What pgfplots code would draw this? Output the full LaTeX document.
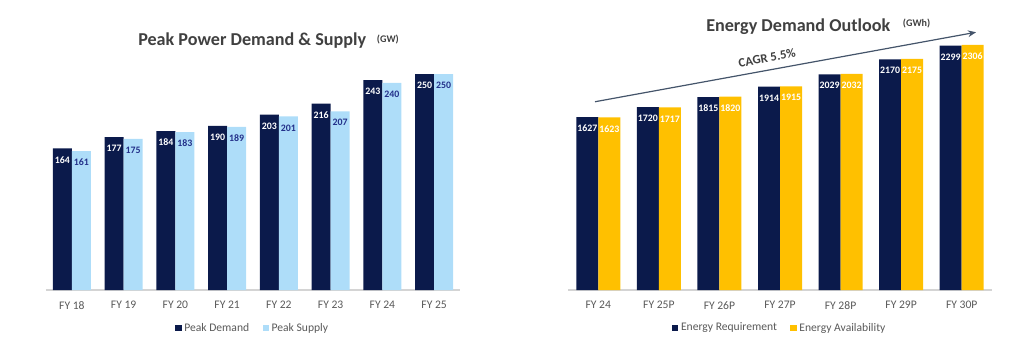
\documentclass[border=0pt]{standalone}
\usepackage{fontspec}
\setmainfont{Carlito}
\usepackage{pgfplots}
\usepackage{pgfplotstable}
\pgfplotsset{compat=1.18}
\usetikzlibrary{arrows.meta}

\definecolor{navy}{HTML}{0B1A4B}
\definecolor{skyblue}{HTML}{AEDDF9}
\definecolor{gold}{HTML}{FFC000}
\definecolor{labelblue}{HTML}{23308A}
\definecolor{titlegrey}{HTML}{404040}
\definecolor{tickgrey}{HTML}{595959}
\definecolor{arrowslate}{HTML}{44546A}

% Peak power demand and supply (GW)
\pgfplotstableread{
x demand supply
0 164 161
1 177 175
2 184 183
3 190 189
4 203 201
5 216 207
6 243 240
7 250 250
}\peaktable

% Energy requirement and availability (GWh)
\pgfplotstableread{
x requirement availability
0 1627 1623
1 1720 1717
2 1815 1820
3 1914 1915
4 2029 2032
5 2170 2175
6 2299 2306
}\energytable

\pgfplotsset{
  barchart/.style={
    ybar=0pt, scale only axis, enlargelimits=false, ymin=0,
    axis x line*=bottom, axis y line=none,
    x axis line style={draw=black!17, line width=1pt, -},
    major tick length=0pt,
    xticklabel style={font=\fontsize{8.7}{10}\selectfont, text=tickgrey, yshift=-5pt},
    nodes near coords, point meta=y,
    /pgf/number format/1000 sep={},
    /pgf/number format/assume math mode=true,
    every node near coord/.append style={font=\fontsize{7.4}{8}\selectfont\bfseries,
      anchor=center, inner sep=0pt, yshift=-8.5pt},
    legend style={at={(0.5,0)}, anchor=center, yshift=-28.5pt, draw=none, fill=none,
      font=\fontsize{8.7}{10}\selectfont, text=tickgrey,
      /tikz/every even column/.append style={column sep=8pt}},
    legend columns=2,
    legend image code/.code={\fill[##1, draw=none] (0pt,-2.3pt) rectangle (4.8pt,2.5pt);},
  }
}

\begin{document}
\begin{tikzpicture}
\useasboundingbox (0,0) rectangle (768pt,258pt);

\begin{axis}[barchart, at={(34.5pt,40.5pt)}, anchor=south west,
  width=310.5pt, height=181.3pt, xmin=-0.5, xmax=7.5, ymax=280,
  bar width=14.25pt, xtick={0,...,7},
  xticklabels={FY 18,FY 19,FY 20,FY 21,FY 22,FY 23,FY 24,FY 25}]
  \addplot[fill=navy, draw=none, every node near coord/.append style={text=white}]
    table[x=x, y=demand] {\peaktable};
  \addplot[fill=skyblue, draw=none, every node near coord/.append style={text=labelblue}]
    table[x=x, y=supply] {\peaktable};
  \legend{Peak Demand, Peak Supply}
\end{axis}

\begin{axis}[barchart, at={(426pt,40.5pt)}, anchor=south west,
  width=318pt, height=207.3pt, xmin=-0.5, xmax=6.5, ymax=2600,
  bar width=16.5pt, xtick={0,...,6},
  xticklabels={FY 24,FY 25P,FY 26P,FY 27P,FY 28P,FY 29P,FY 30P}]
  \addplot[fill=navy, draw=none, every node near coord/.append style={text=white}]
    table[x=x, y=requirement] {\energytable};
  \addplot[fill=gold, draw=none, every node near coord/.append style={text=white}]
    table[x=x, y=availability] {\energytable};
  \legend{Energy Requirement, Energy Availability}
\end{axis}

% titles
\node[anchor=base west, inner sep=0pt, text=titlegrey,
  font=\fontsize{13.6}{16}\selectfont\bfseries] at (103.5pt,223.7pt) {Peak Power Demand \& Supply};
\node[anchor=base west, inner sep=0pt, text=titlegrey,
  font=\fontsize{7.6}{9}\selectfont\bfseries] at (282.5pt,226.5pt) {(GW)};
\node[anchor=base west, inner sep=0pt, text=titlegrey,
  font=\fontsize{13.6}{16}\selectfont\bfseries] at (529.5pt,234.2pt) {Energy Demand Outlook};
\node[anchor=base west, inner sep=0pt, text=titlegrey,
  font=\fontsize{7.6}{9}\selectfont\bfseries] at (677pt,238pt) {(GWh)};

% growth arrow with CAGR note
\draw[arrowslate, line width=0.9pt, -{Stealth[length=6pt,width=5pt]}]
  (446.25pt,181.7pt) -- (732pt,233.8pt);
\node[rotate=10.5, inner sep=0pt, text=titlegrey,
  font=\fontsize{9.5}{11}\selectfont\bfseries] at (575.3pt,214.5pt) {CAGR 5.5\%};
\end{tikzpicture}
\end{document}
